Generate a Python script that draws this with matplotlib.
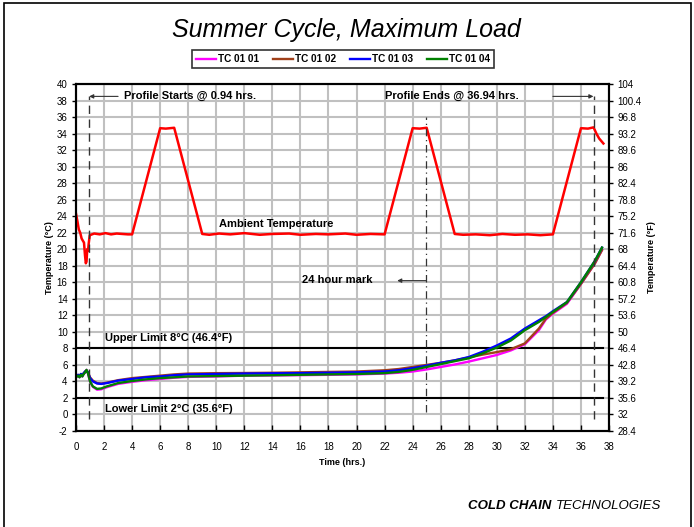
import matplotlib
matplotlib.use('Agg')
import matplotlib.pyplot as plt
from matplotlib.patches import Rectangle

plt.rcParams['font.family'] = ['Liberation Sans', 'DejaVu Sans']
plt.rcParams['axes.unicode_minus'] = False

# ambient temperature (deg C) vs time (hrs)
amb_t = [0, 0.1, 0.2, 0.3, 0.4, 0.5, 0.57, 0.64, 0.7, 0.75, 0.8, 0.86, 0.9, 0.98,
         1.3, 1.7, 2.1, 2.5, 2.9, 3.3, 3.7, 4.0, 6.0, 6.4, 7.0, 9.0, 9.5, 10.2, 11.0,
         12.0, 13.1, 14.0, 15.2, 16.0, 17.1, 18.0, 19.2, 20.0, 21.0, 22.0, 24.0, 24.5,
         25.0, 27.0, 27.6, 28.5, 29.5, 30.4, 31.3, 32.2, 33.1, 34.0, 36.0, 36.5, 36.9,
         37.1, 37.3, 37.6]
amb_c = [24.3, 23.4, 22.4, 22.0, 21.3, 21.0, 20.8, 19.3, 18.3, 18.5, 20.0, 19.8, 20.6, 21.7,
         21.9, 21.8, 21.95, 21.8, 21.9, 21.85, 21.8, 21.8, 34.65, 34.6, 34.7, 21.85, 21.75,
         21.9, 21.8, 21.95, 21.75, 21.85, 21.9, 21.75, 21.85, 21.8, 21.9, 21.75, 21.85, 21.8, 34.65, 34.6,
         34.7, 21.85, 21.75, 21.8, 21.7, 21.85, 21.75, 21.8, 21.7, 21.8, 34.65, 34.6, 34.75,
         34.0, 33.4, 32.8]

# product thermocouples (deg C)
tc_t = [0, 0.15, 0.25, 0.35, 0.45, 0.55, 0.65, 0.75, 0.85, 1.0, 1.2, 1.5, 1.8, 2.2,
        3, 4, 5, 6, 7, 8, 10, 12, 14, 16, 18, 20, 22, 23, 24, 25, 26, 27, 28, 29,
        30, 31, 32, 33, 33.5, 34, 35, 36, 37, 37.5]
tc_01 = [4.5, 4.7, 4.5, 4.8, 4.6, 4.9, 5.1, 5.4, 5.0, 4.0, 3.35, 3.0, 3.05, 3.3,
         3.7, 3.95, 4.15, 4.3, 4.45, 4.55, 4.6, 4.7, 4.72, 4.76, 4.8, 4.85, 4.95, 5.05, 5.2, 5.45,
         5.75, 6.05, 6.4, 6.8, 7.2, 7.75, 8.5, 10.2, 11.5, 12.2, 13.4, 15.8, 18.3, 19.9]
tc_02 = [4.6, 4.8, 4.6, 4.9, 4.7, 5.0, 5.2, 5.3, 5.1, 4.5, 4.1, 3.8, 3.75, 3.85,
         4.15, 4.4, 4.55, 4.7, 4.85, 4.95, 5.0, 5.02, 5.05, 5.1, 5.15, 5.2, 5.35, 5.5, 5.75, 6.0,
         6.25, 6.55, 6.9, 7.25, 7.55, 7.9, 8.6, 10.4, 11.6, 12.3, 13.5, 15.8, 18.3, 19.9]
tc_03 = [4.6, 4.8, 4.6, 4.9, 4.7, 5.0, 5.2, 5.3, 5.1, 4.4, 4.0, 3.75, 3.7, 3.8,
         4.1, 4.3, 4.5, 4.6, 4.75, 4.85, 4.9, 4.95, 4.98, 5.0, 5.05, 5.1, 5.2, 5.35, 5.6, 5.9,
         6.25, 6.55, 6.95, 7.6, 8.35, 9.2, 10.4, 11.4, 11.9, 12.5, 13.6, 16.0, 18.6, 20.2]
tc_04 = [4.5, 4.7, 4.5, 4.8, 4.6, 4.9, 5.1, 5.4, 5.0, 4.0, 3.4, 3.1, 3.15, 3.4,
         3.8, 4.05, 4.25, 4.4, 4.5, 4.6, 4.65, 4.7, 4.75, 4.8, 4.85, 4.9, 5.0, 5.15, 5.4, 5.75,
         6.1, 6.45, 6.8, 7.4, 8.1, 8.95, 10.2, 11.2, 11.8, 12.4, 13.6, 16.0, 18.6, 20.2]

tc_names = ['TC 01 01', 'TC 01 02', 'TC 01 03', 'TC 01 04']
tc_colors = ['#ff00ff', '#a0401a', '#0000ff', '#008000']

hours = list(range(0, 39, 2))
c_ticks = list(range(-2, 41, 2))
upper_lim, lower_lim = 8, 2
start_h, end_h, mark_h = 0.94, 36.94, 24.94

fig = plt.figure(figsize=(6.94, 5.27), dpi=100)
ax = fig.add_axes([76 / 694, 96 / 527, 533 / 694, 347 / 527])

ax.set_xlim(0, 38)
ax.set_ylim(-2, 40)
ax.set_xticks(hours)
ax.set_yticks(c_ticks)
ax.grid(True, color='#c0c0c0', lw=1.5, zorder=0)
ax.set_axisbelow(True)
for s in ax.spines.values():
    s.set_linewidth(1.5)
ax.tick_params(axis='x', direction='in', length=4, width=1, labelsize=7, pad=8)
ax.tick_params(axis='y', direction='out', length=3, width=1, labelsize=7, pad=3)

ax.plot(amb_t, amb_c, color='#ff0000', lw=1.8, zorder=3)
lines = []
for vals, name, col in zip([tc_01, tc_02, tc_03, tc_04], tc_names, tc_colors):
    ln, = ax.plot(tc_t, vals, color=col, lw=1.7, label=name, zorder=4)
    lines.append(ln)

ax.plot([0, 37.6], [upper_lim, upper_lim], color='black', lw=1.5, zorder=3)
ax.plot([0, 37.6], [lower_lim, lower_lim], color='black', lw=1.5, zorder=3)

ax.plot([start_h, start_h], [-0.5, 38.5], color='#333333', lw=1, ls=(0, (6, 4)), zorder=5)
ax.plot([end_h, end_h], [-0.5, 38.5], color='#333333', lw=1, ls=(0, (6, 4)), zorder=5)
ax.plot([mark_h, mark_h], [0.3, 36.0], color='#333333', lw=0.9, ls=(0, (6, 3, 1, 3)), zorder=5)

arw = dict(arrowstyle='-|>', lw=0.8, color='#333333', mutation_scale=6, shrinkA=0, shrinkB=0)
ax.annotate('', xy=(start_h, 38.5), xytext=(3.0, 38.5), arrowprops=arw)
ax.annotate('', xy=(end_h - 0.05, 38.5), xytext=(34.0, 38.5), arrowprops=arw)
ax.annotate('', xy=(22.9, 16.2), xytext=(mark_h, 16.2), arrowprops=arw)

bold = dict(fontsize=8, fontweight='bold', va='center', zorder=6)
ax.text(3.45, 38.5, 'Profile Starts @ 0.94 hrs.', **bold)
ax.text(22.05, 38.5, 'Profile Ends @ 36.94 hrs.', **bold)
ax.text(10.2, 23.1, 'Ambient Temperature', **bold)
ax.text(16.1, 16.3, '24 hour mark', **bold)
ax.text(2.1, 9.3, 'Upper Limit 8°C (46.4°F)', **bold)
ax.text(2.1, 0.7, 'Lower Limit 2°C (35.6°F)', **bold)

ax.set_xlabel('Time (hrs.)', fontsize=6.5, fontweight='bold', labelpad=4)
ax.set_ylabel('Temperature (°C)', fontsize=6.5, fontweight='bold', labelpad=2)

ax2 = ax.twinx()
f_ticks = [round(c * 1.8 + 32, 1) for c in c_ticks]
ax2.set_ylim(f_ticks[0], f_ticks[-1])
ax2.set_yticks(f_ticks)
ax2.set_yticklabels(['%g' % f for f in f_ticks])
ax2.tick_params(axis='y', direction='out', length=3, width=1, labelsize=7, pad=3)
ax2.set_ylabel('Temperature (°F)', fontsize=6.5, fontweight='bold', labelpad=4)
for s in ax2.spines.values():
    s.set_linewidth(1.5)

leg = fig.legend(lines, tc_names, loc='center', bbox_to_anchor=(343 / 694, 1 - 59 / 527),
                 ncol=4, frameon=True, fancybox=False, edgecolor='black',
                 prop={'weight': 'bold', 'size': 7.2}, handlelength=2.0, handletextpad=0.2,
                 columnspacing=1.4, borderpad=0.4)
leg.get_frame().set_linewidth(1.2)

fig.text(346 / 694, 1 - 30 / 527, 'Summer Cycle, Maximum Load', fontsize=18,
         style='italic', ha='center', va='center')

fig.text(551 / 694, 1 - 506 / 527, 'COLD CHAIN', fontsize=9.5, style='italic',
         fontweight='bold', ha='right', va='center')
fig.text(556 / 694, 1 - 506 / 527, 'TECHNOLOGIES', fontsize=9.5, style='italic',
         ha='left', va='center')

fig.patches.append(Rectangle((3.5 / 694, -0.02), 687 / 694, 1.02 - 3.5 / 527, fill=False,
                             edgecolor='black', lw=1.2, transform=fig.transFigure, figure=fig))

fig.savefig('out.png', dpi=100)
